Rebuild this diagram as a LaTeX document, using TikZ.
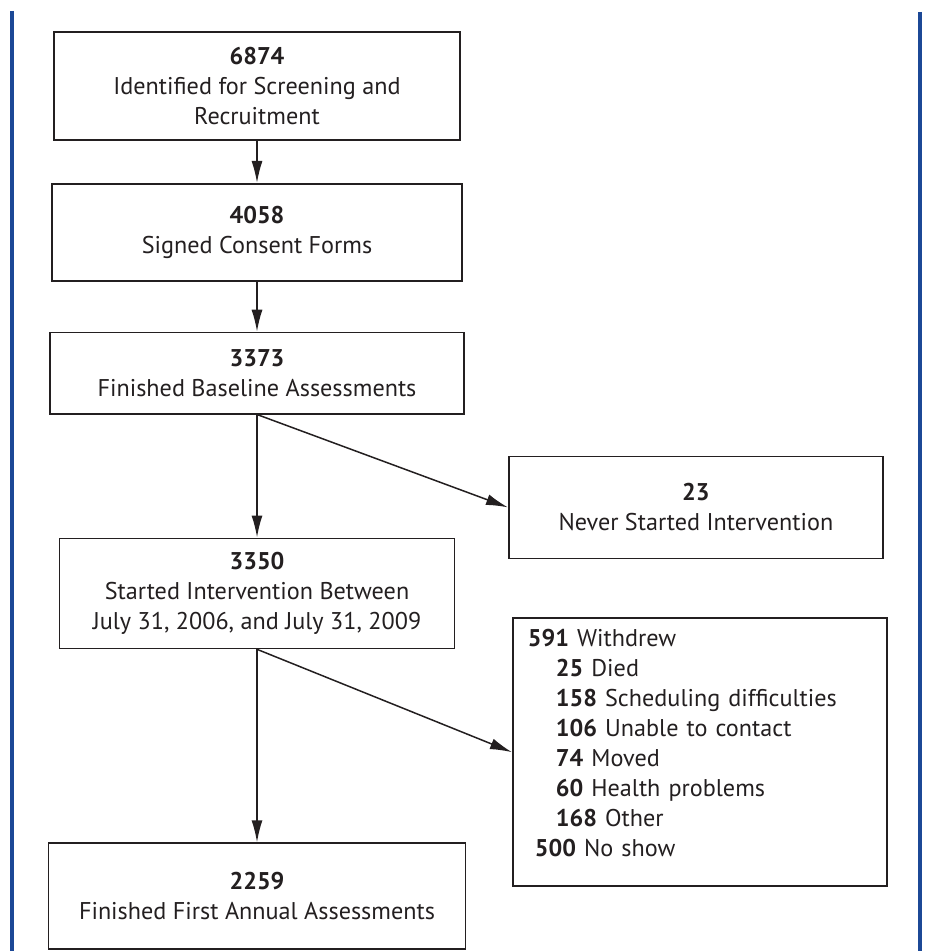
\documentclass[tikz,border=0pt]{standalone}
\usepackage{fontspec}
\setmainfont{PT Sans}
\usepackage{xcolor}
\usetikzlibrary{arrows.meta, positioning, calc}
\definecolor{ink}{RGB}{35,31,32}
\definecolor{frameblue}{RGB}{28,72,150}

\begin{document}
\begin{tikzpicture}[>={Latex[length=11pt,width=5.5pt]},
  box/.style={draw=ink, line width=0.9pt, align=center, inner sep=0pt,
    text=ink, font=\fontsize{12.1}{15}\selectfont},
  flow/.style={->, draw=ink, line width=0.75pt}]
  \useasboundingbox (0,0) rectangle (463pt,-475.5pt);

  % Frame
  \draw[frameblue, line width=1.6pt] (6pt,-5.5pt) -- (6pt,-475.5pt);
  \draw[frameblue, line width=1.6pt] (460pt,-6pt) -- (460pt,-475.5pt);

  % Nodes
  \node[box, minimum width=203pt, minimum height=54pt] (ident) at (128.5pt,-43pt)
    {\textbf{6874}\\Identified for Screening and\\Recruitment};
  \node[box, minimum width=205pt, minimum height=48.5pt, below=21pt of ident] (consent)
    {\textbf{4058}\\Signed Consent Forms};
  \node[box, minimum width=207pt, minimum height=40.5pt, below=25pt of consent] (base)
    {\textbf{3373}\\Finished Baseline Assessments};
  \node[box, minimum width=197.5pt, minimum height=55pt, below=61.5pt of base] (started)
    {\textbf{3350}\\Started Intervention Between\\July 31, 2006, and July 31, 2009};
  \node[box, minimum width=208.5pt, minimum height=53pt, below=96.5pt of started] (annual)
    {\textbf{2259}\\Finished First Annual Assessments};
  \node[box, minimum width=187pt, minimum height=51pt, below right=20.5pt and 125.5pt of base.south] (never)
    {\textbf{23}\\Never Started Intervention};
  \node[box, align=left, text width=172pt, inner xsep=7.5pt, minimum height=134pt,
    below right=29pt and 2pt of never.south west] (withdrew)
    {\textbf{591} Withdrew\\
     \hspace*{14pt}\textbf{25} Died\\
     \hspace*{14pt}\textbf{158} Scheduling difficulties\\
     \hspace*{14pt}\textbf{106} Unable to contact\\
     \hspace*{14pt}\textbf{74} Moved\\
     \hspace*{14pt}\textbf{60} Health problems\\
     \hspace*{14pt}\textbf{168} Other\\
     \hspace*{3.5pt}\textbf{500} No show\\[-6pt]\mbox{}};

  % Arrows
  \draw[flow] (ident) -- (consent);
  \draw[flow] (consent) -- (base);
  \draw[flow] (base) -- (started);
  \draw[flow] (base.south) -- (never.west);
  \draw[flow] (started) -- (annual);
  \draw[flow] (started.south) -- (withdrew.west);
\end{tikzpicture}
\end{document}
